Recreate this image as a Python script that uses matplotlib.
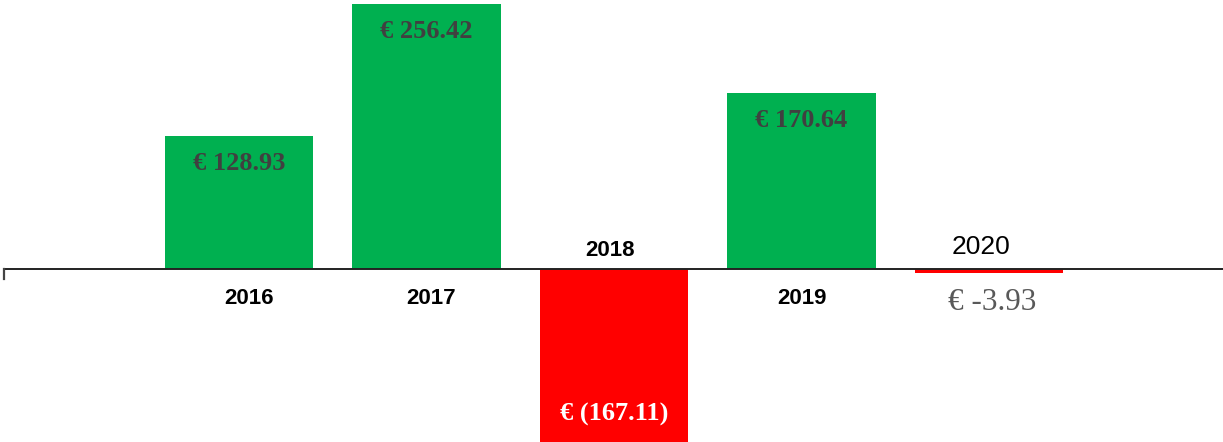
import numpy as np
import matplotlib
matplotlib.use("Agg")
import matplotlib.pyplot as plt

# ------------------------------------------------
# DATA
# ------------------------------------------------

years = ['2016', '2017', '2018', '2019', '2020']
values = [128.93, 256.42, -167.11, 170.64, -3.93]
value_labels = ['€ 128.93', '€ 256.42', '€ (167.11)', '€ 170.64', '€ -3.93']

green = '#00B050'
red = '#FF0000'

# ------------------------------------------------
# FIGURE
# ------------------------------------------------

W, H = 1223, 442
fig = plt.figure(figsize=(W/100, H/100), dpi=100)
ax = fig.add_axes([4/W, 0, 1-4/W, 1])

x = np.arange(len(years))
colors = [green if v >= 0 else red for v in values]
ax.bar(x, values, width=0.79, color=colors, zorder=1)

ax.set_xlim(-1.253, 5.248)
ax.set_ylim(-167.4, 260.3)
ax.axis('off')

# zero line + small tick on the left
ax.axhline(0, color='#222222', lw=1.4, zorder=3)
ax.plot([-1.253, -1.253], [0, -10], color='#444444', lw=1.6, clip_on=False, zorder=3)

# ------------------------------------------------
# LABELS
# ------------------------------------------------

px = 0.72  # one pixel in points at dpi 100
# small horizontal nudges of the year labels, as in the original
nudge = [10.5, 4.5, -4, 0.5, -8]

for i, (yr, v, lab) in enumerate(zip(years, values, value_labels)):
    dx = nudge[i]*px
    if yr == '2020':
        ax.annotate(yr, (i, 0), xytext=(dx, 22*px), textcoords='offset points',
                    ha='center', va='center', fontsize=19, color='black',
                    family='Liberation Sans')
        ax.annotate(lab, (i, v), xytext=(3*px, -29*px), textcoords='offset points',
                    ha='center', va='center', fontsize=22.5, color='#595959',
                    family='Liberation Serif')
        continue
    if v >= 0:
        ax.annotate(yr, (i, 0), xytext=(dx, -29*px), textcoords='offset points',
                    ha='center', va='center', fontsize=16, fontweight='bold',
                    color='black', family='Liberation Sans')
        ax.annotate(lab, (i, v), xytext=(0, -27.5*px), textcoords='offset points',
                    ha='center', va='center', fontsize=19, fontweight='bold',
                    color='#404040', family='Liberation Serif')
    else:
        ax.annotate(yr, (i, 0), xytext=(dx, 19*px), textcoords='offset points',
                    ha='center', va='center', fontsize=16, fontweight='bold',
                    color='black', family='Liberation Sans')
        ax.annotate(lab, (i, v), xytext=(0, 27*px), textcoords='offset points',
                    ha='center', va='center', fontsize=19, fontweight='bold',
                    color='white', family='Liberation Serif')

fig.savefig('out.png', dpi=100)
